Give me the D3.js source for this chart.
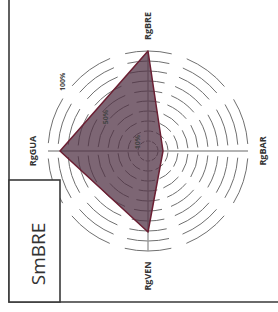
<!DOCTYPE html>
<html>
<head>
<meta charset="utf-8">
<script src="https://cdn.jsdelivr.net/npm/d3@7"></script>
<style>
    body { margin: 0; background: #fff; }
    text { font-family: "Open Sans", "DejaVu Sans", sans-serif; }
</style>
</head>
<body>
<div id="radar"></div>
<script>
(function () {
    'use strict';

    // data (axes in clockwise order starting at top)
    var axes = ['RgBRE', 'RgBAR', 'RgVEN', 'RgGUA'];
    var values = [100, 15, 81, 88];
    var ringLevels = [10, 20, 30, 40, 50, 60, 70, 80, 90, 100];
    var ringLabels = [100, 50, 10];
    var panelTitle = 'SmBRE';

    var width = 278,
        height = 312,
        center = { x: 148, y: 151 };

    var svg = d3.select('#radar')
        .append('svg')
        .attr('width', width)
        .attr('height', height);

    var r = d3.scaleLinear().domain([0, 100]).range([0, 100]);
    var angle = d3.scaleLinear().domain([0, axes.length]).range([-Math.PI / 2, 1.5 * Math.PI]);

    var g = svg.append('g')
        .attr('transform', 'translate(' + center.x + ',' + center.y + ')');

    // dashed rings
    g.append('g')
        .selectAll('circle')
        .data(ringLevels)
        .enter().append('circle')
        .attr('r', function (d) { return r(d); })
        .attr('fill', 'none')
        .attr('stroke', '#707070')
        .attr('stroke-width', 1)
        .attr('stroke-dasharray', function (d) {
            var period = 2 * Math.PI * r(d) / 10;
            return (period * 0.75) + ' ' + (period * 0.25);
        })
        .attr('stroke-dashoffset', function (d) {
            var period = 2 * Math.PI * r(d) / 10;
            return -period * 0.12;
        });

    // axis lines
    g.append('g')
        .selectAll('line')
        .data(axes)
        .enter().append('line')
        .attr('x1', 0).attr('y1', 0)
        .attr('x2', function (d, i) { return r(100) * Math.cos(angle(i)); })
        .attr('y2', function (d, i) { return r(100) * Math.sin(angle(i)); })
        .attr('stroke', '#9a9a9a')
        .attr('stroke-width', 1.4);

    // value polygon
    var line = d3.lineRadial()
        .angle(function (d, i) { return angle(i) + Math.PI / 2; })
        .radius(function (d) { return r(d); })
        .curve(d3.curveLinearClosed);

    g.append('path')
        .datum(values)
        .attr('d', line)
        .attr('fill', '#4f3043')
        .attr('fill-opacity', 0.74)
        .attr('stroke', '#6b1f33')
        .attr('stroke-width', 1.5)
        .attr('stroke-linejoin', 'round');

    // ring labels, on a diagonal toward upper left
    var labAng = -Math.PI + 0.68;
    g.append('g')
        .selectAll('text')
        .data(ringLabels)
        .enter().append('text')
        .attr('transform', function (d) {
            var rr = r(d) + (d === 100 ? 10 : 4);
            return 'translate(' + (rr * Math.cos(labAng)) + ',' + (rr * Math.sin(labAng)) + ') rotate(-90)';
        })
        .attr('text-anchor', 'middle')
        .attr('dy', '0.35em')
        .attr('font-size', 7)
        .attr('font-weight', 'bold')
        .attr('fill', '#444')
        .text(function (d) { return d + '%'; });

    // axis labels, rotated like the rest of the page
    g.append('g')
        .selectAll('text')
        .data(axes)
        .enter().append('text')
        .attr('transform', function (d, i) {
            var a = angle(i);
            var vertical = Math.abs(Math.sin(a)) > 0.5;
            var rr = r(100) + (vertical ? 25 : 15);
            return 'translate(' + (rr * Math.cos(a)) + ',' + (rr * Math.sin(a)) + ') rotate(-90)';
        })
        .attr('text-anchor', 'middle')
        .attr('dy', '0.35em')
        .attr('font-size', 9)
        .attr('font-weight', 'bold')
        .attr('fill', '#333')
        .text(function (d) { return d; });

    // page frame
    svg.append('path')
        .attr('d', 'M9,0 V302 H278')
        .attr('fill', 'none')
        .attr('stroke', '#3a3a3a')
        .attr('stroke-width', 1.6);

    // title box
    svg.append('rect')
        .attr('x', 9).attr('y', 180)
        .attr('width', 51).attr('height', 122)
        .attr('fill', '#fff')
        .attr('stroke', '#3a3a3a')
        .attr('stroke-width', 1.6);

    svg.append('text')
        .attr('transform', 'translate(38,254) rotate(-90)')
        .attr('text-anchor', 'middle')
        .attr('dy', '0.35em')
        .attr('font-size', 19)
        .attr('fill', '#333')
        .text(panelTitle);
})();
</script>
</body>
</html>
